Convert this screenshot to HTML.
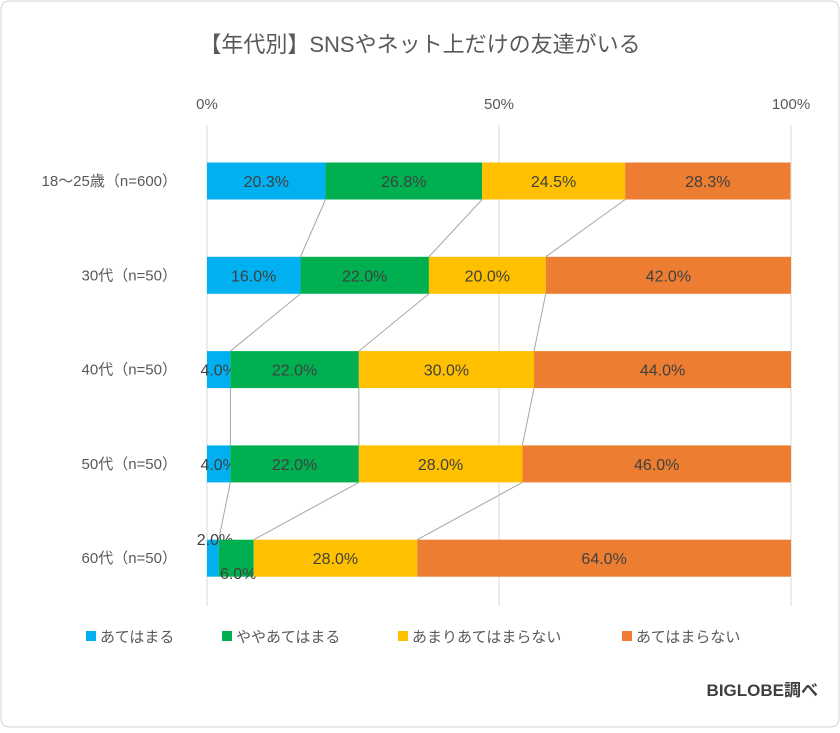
<!DOCTYPE html>
<html><head><meta charset="utf-8"><style>
body{margin:0;background:#fff;}
svg text{font-family:"Liberation Sans","Noto Sans CJK JP",sans-serif;}
</style></head><body>
<svg width="840" height="728" viewBox="0 0 840 728">
<rect x="1" y="1" width="838" height="726" rx="8" fill="#fff" stroke="#d0d0d0"/>
<text x="420" y="52" text-anchor="middle" font-size="22" fill="#595959">【年代別】SNSやネット上だけの友達がいる</text>
<g id="grid"></g><g id="links"></g><g id="bars"></g><g id="legend"></g>
<text x="818" y="696" text-anchor="end" font-size="17" font-weight="bold" fill="#404040">BIGLOBE調べ</text>
</svg>
<script>
const categories=["18〜25歳（n=600）","30代（n=50）","40代（n=50）","50代（n=50）","60代（n=50）"];
const seriesNames=["あてはまる","ややあてはまる","あまりあてはまらない","あてはまらない"];
const s1=[20.3,16.0,4.0,4.0,2.0];
const s2=[26.8,22.0,22.0,22.0,6.0];
const s3=[24.5,20.0,30.0,28.0,28.0];
const s4=[28.3,42.0,44.0,46.0,64.0];
const tickVals=[0,50,100];
const tickLabels=["0%","50%","100%"];
const colors=["#00B0F0","#00B050","#FFC000","#ED7D31"];
const NS="http://www.w3.org/2000/svg";
const x0=207,x1=791,barH=37;
const X=v=>x0+(x1-x0)*v/100;
const Yc=i=>181+i*94.3;
function mk(tag,at,parent,txt){const e=document.createElementNS(NS,tag);for(const k in at)e.setAttribute(k,at[k]);if(txt!=null)e.textContent=txt;document.getElementById(parent).appendChild(e);return e;}
tickVals.forEach((v,i)=>{
 const l=mk('line',{x1:X(v),x2:X(v),y1:125,y2:606,stroke:'#d9d9d9','stroke-width':1},'grid');
 
 
 const t=mk('text',{x:X(v),y:109,'text-anchor':'middle','font-size':15,fill:'#595959'},'grid',tickLabels[i]);
 
 
});
const series=[s1,s2,s3,s4];
const cum=categories.map((c,i)=>{let a=[0];series.forEach(s=>a.push(a[a.length-1]+s[i]));return a;});
for(let i=0;i<categories.length-1;i++){
 for(let k=1;k<=3;k++){
  const l=mk('line',{x1:X(cum[i][k]),y1:Yc(i)+barH/2,x2:X(cum[i+1][k]),y2:Yc(i+1)-barH/2,stroke:'#a6a6a6','stroke-width':1},'links');
  
  
 }
}
categories.forEach((c,i)=>{
 const cy=Yc(i);
 const t=mk('text',{x:177,y:cy+5,'text-anchor':'end','font-size':15,fill:'#595959'},'bars',c);
 
 
 const small=series.some(s=>s[i]<3);
 series.forEach((s,k)=>{
  const a=X(cum[i][k]),b=X(cum[i][k+1]);
  const r=mk('rect',{x:a,y:cy-barH/2,width:b-a,height:barH,fill:colors[k]},'bars');
  
  
  let lx=(a+b)/2,ly=cy+6;
  if(small&&k===0){lx=a+8;ly=cy-13;} else if(small&&k===1){lx=(a+b)/2+2;ly=cy+21;}
  const v=mk('text',{x:lx,y:ly,'text-anchor':'middle','font-size':16,fill:'#404040'},'bars',s[i].toFixed(1)+'%');
  
  
 });
});
const lx=[86,222,398,622];
seriesNames.forEach((n,k)=>{
 const r=mk('rect',{x:lx[k],y:631,width:10,height:10,fill:colors[k]},'legend');
 
 
 const t=mk('text',{x:lx[k]+14,y:642,'font-size':15,fill:'#595959'},'legend',n);
 
 
});
</script>
</body></html>
